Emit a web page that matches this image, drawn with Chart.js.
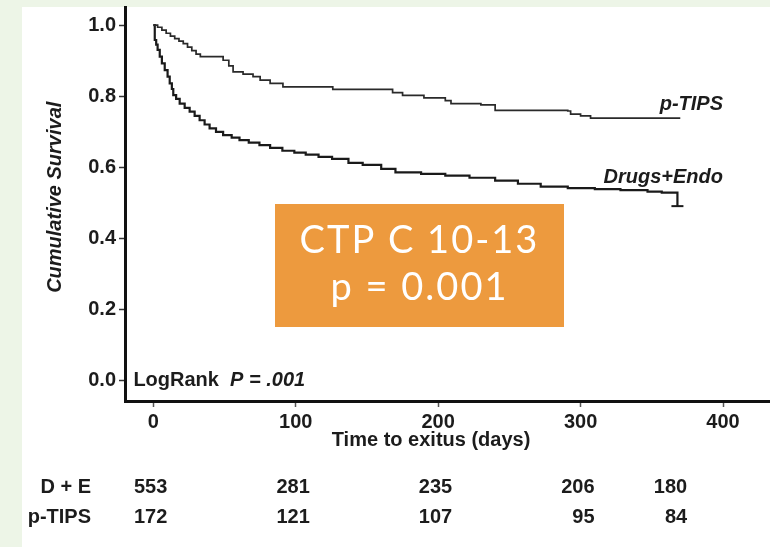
<!DOCTYPE html>
<html>
<head>
<meta charset="utf-8">
<title>Cumulative survival: p-TIPS vs Drugs+Endo</title>
<script src="https://cdn.jsdelivr.net/npm/chart.js@4.4.1/dist/chart.umd.min.js"></script>
<style>
  html, body { margin: 0; padding: 0; }
  body { width: 770px; height: 547px; background: #edf5e7; position: relative; overflow: hidden; }
  #panel { position: absolute; left: 22px; top: 7px; right: 0; bottom: 0; background: #ffffff; }
  #chartBox { position: absolute; left: 0; top: 0; width: 770px; height: 547px; }
</style>
</head>
<body>
<div id="panel"></div>
<div id="chartBox"><canvas id="kmChart" width="770" height="547"></canvas></div>
<script>
// Kaplan-Meier estimates (days, cumulative survival)
const ptipsDays = [0, 3, 6, 9, 12, 15, 18, 21, 24, 27, 30, 33, 49, 53, 56, 63, 70, 75, 82, 91, 126, 168, 175, 190, 205, 209, 230, 240, 291, 293, 300, 307, 370];
const ptipsSurv = [1.0, 0.994, 0.986, 0.977, 0.969, 0.962, 0.955, 0.948, 0.938, 0.928, 0.918, 0.911, 0.901, 0.885, 0.868, 0.862, 0.855, 0.845, 0.836, 0.826, 0.819, 0.810, 0.802, 0.795, 0.787, 0.779, 0.775, 0.760, 0.758, 0.749, 0.744, 0.738, 0.738];

const drugsDays = [0, 1, 2, 3, 4.5, 6, 8, 10, 11.5, 13, 14, 16, 18.5, 22, 25.5, 29, 32.5, 36, 39.5, 44, 49, 55, 60.5, 67, 74.5, 82, 90.6, 99, 107, 116, 125.5, 137, 147, 160, 170, 188, 205, 222, 240, 256, 272, 291, 310, 328, 347, 357, 368, 368];
const drugsSurv = [1.0, 0.958, 0.945, 0.93, 0.911, 0.892, 0.873, 0.855, 0.836, 0.82, 0.803, 0.792, 0.779, 0.767, 0.756, 0.744, 0.732, 0.72, 0.709, 0.699, 0.690, 0.683, 0.676, 0.669, 0.662, 0.654, 0.646, 0.641, 0.635, 0.629, 0.623, 0.612, 0.606, 0.595, 0.585, 0.581, 0.576, 0.570, 0.562, 0.553, 0.545, 0.541, 0.538, 0.535, 0.531, 0.528, 0.524, 0.490];

// axis ticks
const xTicks = [0, 100, 200, 300, 400];
const yTicks = [0, 0.2, 0.4, 0.6, 0.8, 1.0];

// numbers at risk
const riskDays = [0, 100, 200, 300, 365];
const riskLabels = ['D + E', 'p-TIPS'];
const drugsAtRisk = [553, 281, 235, 206, 180];
const ptipsAtRisk = [172, 121, 107, 95, 84];

const boxLines = ['CTP C 10-13', 'p = 0.001'];

const FONT = '"Liberation Sans", Arial, Helvetica, sans-serif';
const INK = '#1c1c1c';

function toPoints(days, surv) {
    return days.map((d, i) => ({ x: d, y: surv[i] }));
}

// keep the plot area where the axes sit in the figure
function noPadding(scale) {
    scale.paddingLeft = 0;
    scale.paddingRight = 0;
    scale.paddingTop = 0;
    scale.paddingBottom = 0;
}

// text, table and overlay box drawn on top of the chart
const annotations = {
    id: 'annotations',
    afterDraw(chart) {
        const { ctx } = chart;
        const x = chart.scales.x;
        const y = chart.scales.y;
        ctx.save();
        ctx.fillStyle = INK;
        ctx.textBaseline = 'middle';

        // y axis title
        ctx.save();
        ctx.translate(55, y.getPixelForValue(0.515));
        ctx.rotate(-Math.PI / 2);
        ctx.textAlign = 'center';
        ctx.font = 'italic bold 20px ' + FONT;
        ctx.fillText('Cumulative Survival', 0, 0);
        ctx.restore();

        // x axis title
        ctx.textAlign = 'center';
        ctx.font = 'bold 20px ' + FONT;
        ctx.fillText('Time to exitus (days)', x.getPixelForValue(195), 440);

        // curve labels
        ctx.textAlign = 'right';
        ctx.font = 'italic bold 20px ' + FONT;
        ctx.fillText('p-TIPS', x.getPixelForValue(400), y.getPixelForValue(0.775));
        ctx.fillText('Drugs+Endo', x.getPixelForValue(400), y.getPixelForValue(0.572));

        // log-rank test
        ctx.textAlign = 'left';
        ctx.font = 'bold 20px ' + FONT;
        const lx = x.getPixelForValue(-14);
        const ly = y.getPixelForValue(0);
        ctx.fillText('LogRank', lx, ly);
        const w = ctx.measureText('LogRank  ').width;
        ctx.font = 'italic bold 20px ' + FONT;
        ctx.fillText('P = .001', lx + w, ly);

        // numbers at risk
        ctx.font = 'bold 20px ' + FONT;
        ctx.textAlign = 'right';
        const rows = [drugsAtRisk, ptipsAtRisk];
        const rowY = [487, 517];
        rows.forEach((row, r) => {
            ctx.fillText(riskLabels[r], 91, rowY[r]);
            row.forEach((n, i) => {
                ctx.fillText(String(n), x.getPixelForValue(riskDays[i]) + 14, rowY[r]);
            });
        });

        // orange overlay box
        const box = { left: 275, top: 204, width: 289, height: 123 };
        ctx.fillStyle = '#ed9a3e';
        ctx.fillRect(box.left, box.top, box.width, box.height);
        ctx.fillStyle = '#ffffff';
        ctx.textAlign = 'center';
        ctx.textBaseline = 'alphabetic';
        ctx.font = '400 38px Lato, "Open Sans", sans-serif';
        if ('letterSpacing' in ctx) ctx.letterSpacing = '2px';
        const cx = box.left + box.width / 2;
        ctx.fillText(boxLines[0], cx, box.top + 49);
        ctx.fillText(boxLines[1], cx, box.top + 96);
        ctx.restore();
    }
};

function initChart() {
    const canvas = document.getElementById('kmChart');

    const chart = new Chart(canvas, {
        type: 'line',
        data: {
            datasets: [{
                label: 'p-TIPS',
                data: toPoints(ptipsDays, ptipsSurv),
                borderColor: '#2a2a2a',
                borderWidth: 1.7,
                stepped: true,
                pointRadius: 0,
                fill: false
            }, {
                label: 'Drugs+Endo',
                data: toPoints(drugsDays, drugsSurv),
                borderColor: '#1a1a1a',
                borderWidth: 2.2,
                stepped: true,
                fill: false,
                // censoring mark at the end of follow-up
                pointStyle: 'line',
                pointRadius: ctx => ctx.dataIndex === drugsDays.length - 1 ? 6 : 0,
                pointBorderColor: '#1a1a1a',
                pointBorderWidth: 2
            }]
        },
        options: {
            responsive: false,
            animation: false,
            layout: {
                autoPadding: false,
                padding: { top: 7, left: 0, right: 0, bottom: 0 }
            },
            plugins: {
                legend: { display: false },
                tooltip: { enabled: false }
            },
            scales: {
                x: {
                    type: 'linear',
                    min: -19.9,
                    max: 433,
                    afterBuildTicks: scale => { scale.ticks = xTicks.map(v => ({ value: v })); },
                    afterFit: scale => { scale.height = 146; noPadding(scale); },
                    border: { display: true, color: '#111', width: 3 },
                    grid: {
                        drawOnChartArea: false,
                        drawTicks: true,
                        tickLength: 6,
                        tickColor: '#555',
                        tickWidth: 1.5
                    },
                    ticks: {
                        color: INK,
                        padding: 3,
                        maxRotation: 0,
                        font: { family: FONT, size: 20, weight: 'bold' }
                    }
                },
                y: {
                    type: 'linear',
                    min: -0.059,
                    max: 1.051,
                    afterBuildTicks: scale => { scale.ticks = yTicks.map(v => ({ value: v })); },
                    afterFit: scale => { scale.width = 125; noPadding(scale); },
                    border: { display: true, color: '#111', width: 3 },
                    grid: {
                        drawOnChartArea: false,
                        drawTicks: true,
                        tickLength: 6,
                        tickColor: '#333',
                        tickWidth: 1.5
                    },
                    ticks: {
                        color: INK,
                        padding: 3,
                        font: { family: FONT, size: 20, weight: 'bold' },
                        callback: value => Number(value).toFixed(1)
                    }
                }
            }
        },
        plugins: [annotations]
    });

    return chart;
}

initChart();
</script>
</body>
</html>
